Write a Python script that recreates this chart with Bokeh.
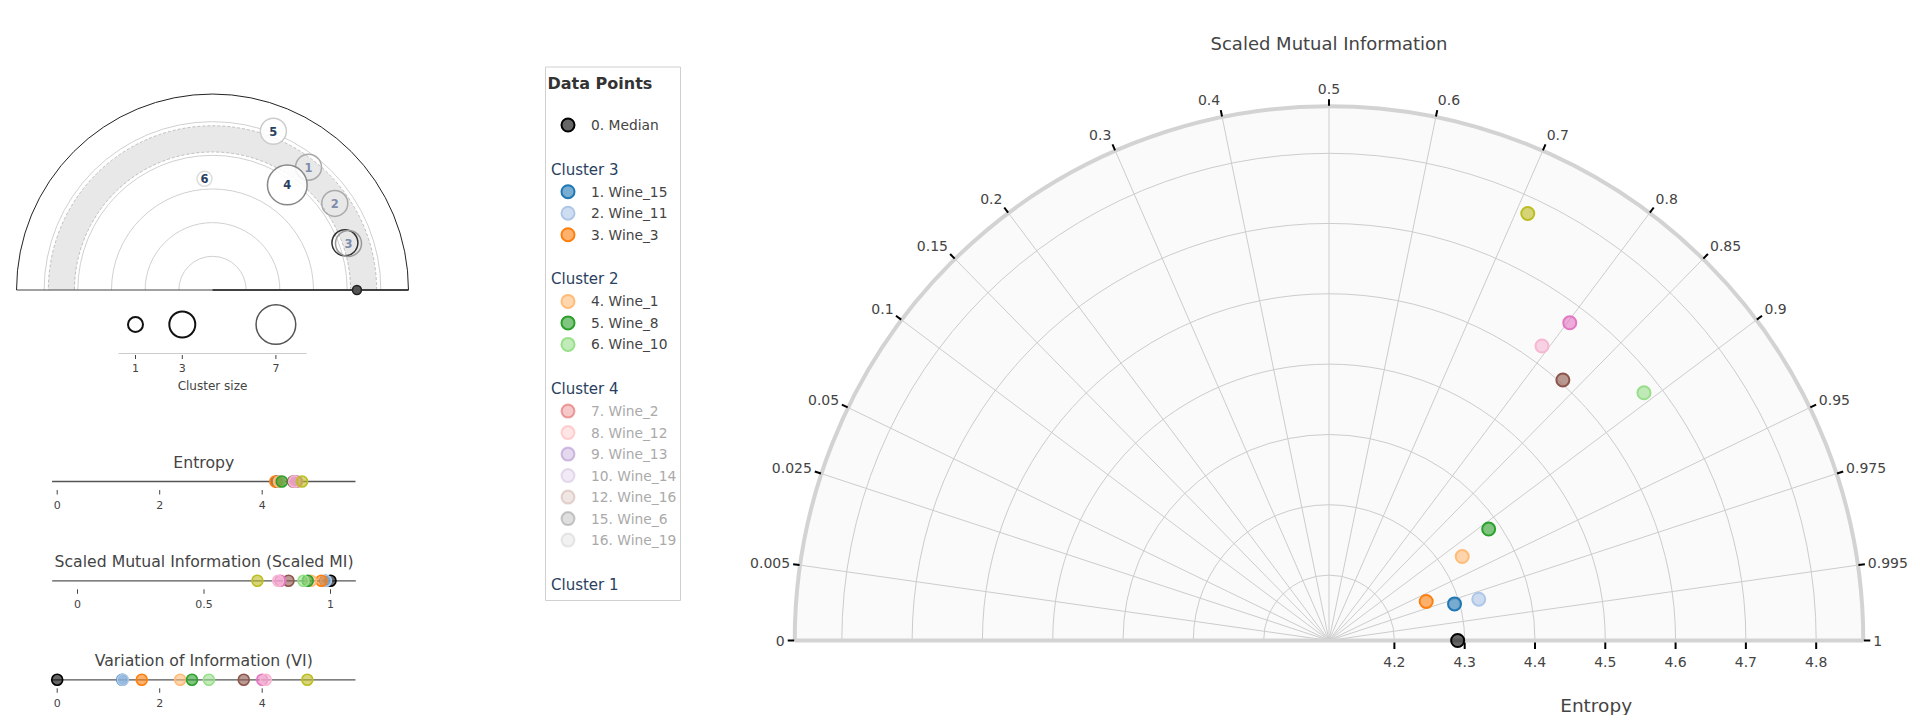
import numpy as np
from bokeh.plotting import figure
from bokeh.layouts import row, column
from bokeh.models import Range1d
from bokeh.core.properties import value
from bokeh.embed import file_html
from bokeh.resources import INLINE

FONT = value("DejaVu Sans")
TXT = "#444444"
NAVY = "#2a3f5f"

# ---------------- data ----------------
# visible data points (median first, then the shown wines)
pt_color = ["#000000", "#1f77b4", "#aec7e8", "#ff7f0e", "#ffbb78", "#2ca02c",
            "#98df8a", "#8c564b", "#e377c2", "#f7b6d2", "#bcbd22"]
pt_entropy = [4.290, 4.293, 4.328, 4.256, 4.331, 4.384, 4.677, 4.605, 4.674, 4.624, 4.777]
pt_smi = [1.000, 0.980, 0.982, 0.964, 0.923, 0.910, 0.893, 0.834, 0.802, 0.793, 0.711]
pt_vi = [0.00, 1.27, 1.28, 1.65, 2.40, 2.63, 2.96, 3.64, 4.00, 4.07, 4.88]

# legend entries
leg_label = ["0. Median", "1. Wine_15", "2. Wine_11", "3. Wine_3", "4. Wine_1", "5. Wine_8",
             "6. Wine_10", "7. Wine_2", "8. Wine_12", "9. Wine_13", "10. Wine_14",
             "12. Wine_16", "15. Wine_6", "16. Wine_19"]
leg_group = ["", "Cluster 3", "Cluster 3", "Cluster 3", "Cluster 2", "Cluster 2", "Cluster 2",
             "Cluster 4", "Cluster 4", "Cluster 4", "Cluster 4", "Cluster 4", "Cluster 4", "Cluster 4"]
leg_color = ["#000000", "#1f77b4", "#aec7e8", "#ff7f0e", "#ffbb78", "#2ca02c", "#98df8a",
             "#d62728", "#ff9896", "#9467bd", "#c5b0d5", "#c49c94", "#7f7f7f", "#c7c7c7"]
leg_shown = [True] * 7 + [False] * 7
group_titles = ["Cluster 3", "Cluster 2", "Cluster 4", "Cluster 1"]

# cluster overview (left semicircle)
cl_id = ["1", "2", "3", "4", "5", "6"]
cl_entropy = [4.63, 4.45, 4.27, 3.83, 5.05, 3.31]
cl_smi = [0.808, 0.908, 0.973, 0.790, 0.679, 0.464]
cl_size = [3, 3, 3, 7, 3, 1]
cl_active = [False, False, False, True, True, True]
sel_entropy = [4.175]
sel_smi = [0.971]
sel_size = [3]
median_entropy = [4.29]
median_smi = [1.0]
band = [4.10, 4.875]
overview_rings = [1, 2, 3, 4, 5]
overview_rmax = 5.82
size_legend = [1, 3, 7]
size_axis = [0.27, 8.31]

# strips
entropy_ticks = [0, 2, 4]
entropy_tick_labels = ["0", "2", "4"]
smi_ticks = [0, 0.5, 1]
smi_tick_labels = ["0", "0.5", "1"]
vi_ticks = [0, 2, 4]
vi_tick_labels = ["0", "2", "4"]
entropy_axis = [-0.1, 5.82]
smi_axis = [-0.1, 1.1]
vi_axis = [-0.1, 5.82]

# main polar diagram
ang_ticks = [0, 0.005, 0.025, 0.05, 0.1, 0.15, 0.2, 0.3, 0.4, 0.5, 0.6, 0.7, 0.8,
             0.85, 0.9, 0.95, 0.975, 0.995, 1]
ang_labels = ["0", "0.005", "0.025", "0.05", "0.1", "0.15", "0.2", "0.3", "0.4", "0.5",
              "0.6", "0.7", "0.8", "0.85", "0.9", "0.95", "0.975", "0.995", "1"]
rad_ticks = [4.2, 4.3, 4.4, 4.5, 4.6, 4.7, 4.8]
rad_labels = ["4.2", "4.3", "4.4", "4.5", "4.6", "4.7", "4.8"]
r_range = [4.107, 4.867]


def make_fig(w, h, xr, yr):
    f = figure(width=w, height=h, x_range=xr, y_range=yr, toolbar_location=None,
               output_backend="svg", min_border=0, title=None)
    f.outline_line_color = None
    f.axis.visible = False
    f.grid.visible = False
    f.background_fill_color = "white"
    f.border_fill_color = "white"
    return f


def ang(s):
    return np.arccos(2 * np.asarray(s, dtype=float) - 1)


LW = 428  # left column width (page x 0..428)

# ---------------- left: cluster overview ----------------
OV = 33.67
OCX, OCY = 212.0, 289.5
fa = make_fig(LW, 300, Range1d((0 - OCX) / OV, (LW - OCX) / OV),
              Range1d((OCY - 300) / OV, (OCY - 0) / OV))
n_r = len(overview_rings)
fa.arc(x=[0] * n_r, y=[0] * n_r, radius=overview_rings, start_angle=0, end_angle=np.pi,
       line_color="#d0d0d0", line_width=1)
fa.annular_wedge(x=0, y=0, inner_radius=band[0], outer_radius=band[1], start_angle=0,
                 end_angle=np.pi, fill_color="#e8e8e8", line_color=None)
fa.arc(x=[0, 0], y=[0, 0], radius=band, start_angle=0, end_angle=np.pi,
       line_color="#bdbdbd", line_width=1, line_dash="3 2")
fa.arc(x=0, y=0, radius=overview_rmax, start_angle=0, end_angle=np.pi,
       line_color="#222222", line_width=1)
fa.segment(x0=-overview_rmax, y0=0, x1=overview_rmax, y1=0, line_color="#444444", line_width=1)
fa.segment(x0=0, y0=0, x1=overview_rmax, y1=0, line_color="#222222", line_width=1.6)

th_sel = ang(sel_smi)
fa.scatter(x=np.array(sel_entropy) * np.cos(th_sel), y=np.array(sel_entropy) * np.sin(th_sel),
           size=15 * np.sqrt(sel_size), fill_color=None, line_color="#333333", line_width=1.5)
th_c = ang(cl_smi)
cx = np.array(cl_entropy) * np.cos(th_c)
cy = np.array(cl_entropy) * np.sin(th_c)
line_cols = ["#aaaaaa", "#aaaaaa", "#999999", "#888888", "#cccccc", "#dddddd"]
fill_al = [0.0 if not a else 0.85 for a in cl_active]
fa.scatter(x=cx, y=cy, size=15 * np.sqrt(cl_size), fill_color="white", fill_alpha=fill_al,
           line_color=line_cols, line_width=1.5)
act = [i for i, a in enumerate(cl_active) if a]
ina = [i for i, a in enumerate(cl_active) if not a]
fa.text(x=cx[act], y=cy[act], text=[cl_id[i] for i in act], text_font=FONT,
        text_font_size="11.5px", text_font_style="bold", text_color=NAVY,
        text_align="center", text_baseline="middle")
fa.text(x=cx[ina], y=cy[ina], text=[cl_id[i] for i in ina], text_font=FONT,
        text_font_size="11.5px", text_font_style="bold", text_color="#7f8cab",
        text_align="center", text_baseline="middle")
th_m = ang(median_smi)
fa.scatter(x=np.array(median_entropy) * np.cos(th_m), y=np.array(median_entropy) * np.sin(th_m),
           size=9, fill_color="#555555", line_color="#222222", line_width=1.5)

# cluster size legend
SZ = 23.4
SX0 = 135.0
fa2 = make_fig(LW, 100, Range1d(1 + (0 - SX0) / SZ, 1 + (LW - SX0) / SZ), Range1d(400, 300))
fa2.scatter(x=size_legend, y=[324] * 3, size=15 * np.sqrt(size_legend), fill_color=None,
            line_color=["#111111", "#111111", "#555555"], line_width=[2, 2, 1.5])
fa2.segment(x0=size_axis[0], y0=353, x1=size_axis[1], y1=353, line_color="#cccccc", line_width=1)
fa2.segment(x0=size_legend, y0=354.5, x1=size_legend, y1=358.5, line_color=TXT, line_width=1)
fa2.text(x=size_legend, y=[367] * 3, text=[str(s) for s in size_legend], text_font=FONT,
         text_font_size="11px", text_color=TXT, text_align="center", text_baseline="middle")
fa2.text(x=[np.mean(size_axis)], y=[385], text=["Cluster size"], text_font=FONT,
         text_font_size="12px", text_color=TXT, text_align="center", text_baseline="middle")


# ---------------- strips ----------------
def strip(title, vals, ticks, tick_labels, axis_rng, x0_page, ppu, ytop, ybot, line_y):
    f = make_fig(LW, ybot - ytop, Range1d((0 - x0_page) / ppu, (LW - x0_page) / ppu),
                 Range1d(ybot, ytop))
    f.segment(x0=axis_rng[0], y0=line_y, x1=axis_rng[1], y1=line_y, line_color="#555555",
              line_width=1.3)
    f.segment(x0=ticks, y0=line_y + 8.5, x1=ticks, y1=line_y + 13, line_color=TXT, line_width=1)
    f.text(x=ticks, y=[line_y + 23] * len(ticks), text=tick_labels, text_font=FONT,
           text_font_size="11px", text_color=TXT, text_align="center", text_baseline="middle")
    f.text(x=[np.mean(axis_rng)], y=[line_y - 19.5], text=[title], text_font=FONT,
           text_font_size="15.7px", text_color=TXT, text_align="center", text_baseline="middle")
    f.scatter(x=vals, y=[line_y] * len(vals), size=11, fill_color=pt_color, fill_alpha=0.6,
              line_color=pt_color, line_width=1.6)
    return f


fb1 = strip("Entropy", pt_entropy, entropy_ticks, entropy_tick_labels, entropy_axis,
            56.7, 51.25, 400, 520, 481)
fb2 = strip("Scaled Mutual Information (Scaled MI)", pt_smi, smi_ticks, smi_tick_labels,
            smi_axis, 77.0, 253.0, 520, 620, 580.3)
fb3 = strip("Variation of Information (VI)", pt_vi, vi_ticks, vi_tick_labels, vi_axis,
            56.7, 51.25, 620, 715, 679.3)

# ---------------- legend ----------------
fl = make_fig(272, 715, Range1d(428, 700), Range1d(715, 0))
fl.quad(left=545, right=680, top=66.5, bottom=600, fill_color="white",
        line_color="#d0d0d0", line_width=1)
ITEM_STEP, GROUP_GAP, TITLE_TO_ITEM = 21.5, 44.5, 22.2
item_y, gt_y, gt_text = [], [], []
last, ycur = None, None
for g in leg_group:
    if g != last:
        if last is None:
            ycur = 124.5
        else:
            ty = ycur + GROUP_GAP
            gt_y.append(ty)
            gt_text.append(g)
            ycur = ty + TITLE_TO_ITEM
        last = g
    else:
        ycur += ITEM_STEP
    item_y.append(ycur)
for g in group_titles:
    if g not in gt_text:
        gt_y.append(ycur + GROUP_GAP)
        gt_text.append(g)

fl.text(x=[547], y=[82.5], text=["Data Points"], text_font=FONT, text_font_size="16px",
        text_font_style="bold", text_color="#333333", text_align="left", text_baseline="middle")
fl.text(x=[550.5] * len(gt_y), y=gt_y, text=gt_text, text_font=FONT, text_font_size="15px",
        text_color=NAVY, text_align="left", text_baseline="middle")
on = [i for i, s in enumerate(leg_shown) if s]
off = [i for i, s in enumerate(leg_shown) if not s]
for idx, fa_, la_, tc in ((on, 0.6, 1.0, TXT), (off, 0.25, 0.4, "#aaaaaa")):
    cols = [leg_color[i] for i in idx]
    ys = [item_y[i] for i in idx]
    fl.scatter(x=[567.5] * len(idx), y=ys, size=13, fill_color=cols, fill_alpha=fa_,
               line_color=cols, line_alpha=la_, line_width=2)
    fl.text(x=[590.5] * len(idx), y=ys, text=[leg_label[i] for i in idx], text_font=FONT,
            text_font_size="13.8px", text_color=tc, text_align="left", text_baseline="middle")

# ---------------- main polar diagram ----------------
PPU = 703.0
R0 = r_range[0]
R = r_range[1] - r_range[0]
CX, CY = 1328.5, 640.0
PX0, PY0, PW, PH = 700, 0, 1212, 715
pp = make_fig(PW, PH, Range1d((PX0 - CX) / PPU, (PX0 + PW - CX) / PPU),
              Range1d((CY - (PY0 + PH)) / PPU, (CY - PY0) / PPU))

pp.wedge(x=0, y=0, radius=R, start_angle=0, end_angle=np.pi, fill_color="#fafafa",
         line_color=None)
rr = [t - R0 for t in rad_ticks]
pp.arc(x=[0] * len(rr), y=[0] * len(rr), radius=rr, start_angle=0, end_angle=np.pi,
       line_color="#cccccc", line_width=1)
th = ang(ang_ticks)
inner = th[1:-1]
pp.segment(x0=0, y0=0, x1=R * np.cos(inner), y1=R * np.sin(inner), line_color="#cccccc",
           line_width=1)
pp.arc(x=0, y=0, radius=R, start_angle=0, end_angle=np.pi, line_color="#d3d3d3", line_width=4)
pp.segment(x0=-R, y0=0, x1=R, y1=0, line_color="#d3d3d3", line_width=4)

# angular ticks + labels
t_in, t_out = R + 0.5 / PPU, R + 7 / PPU
pp.segment(x0=t_in * np.cos(th), y0=t_in * np.sin(th), x1=t_out * np.cos(th),
           y1=t_out * np.sin(th), line_color="black", line_width=2)
lab_r = R + 10 / PPU
hh = 7.5 / PPU
lx = lab_r * np.cos(th)
ly = lab_r * np.sin(th) + hh * np.sin(th)
cos_t = np.cos(th)
for sel, al in ((cos_t > 0.01, "left"), (cos_t < -0.01, "right"), (np.abs(cos_t) <= 0.01, "center")):
    ids = np.where(sel)[0]
    pp.text(x=lx[ids], y=ly[ids], text=[ang_labels[i] for i in ids], text_font=FONT,
            text_font_size="14px", text_color=TXT, text_align=al, text_baseline="middle")

# radial ticks + labels
pp.segment(x0=rr, y0=-2 / PPU, x1=rr, y1=-8.5 / PPU, line_color="black", line_width=2)
pp.text(x=rr, y=[-21 / PPU] * len(rr), text=rad_labels, text_font=FONT,
        text_font_size="14px", text_color=TXT, text_align="center", text_baseline="middle")

pp.text(x=[R / 2], y=[-65 / PPU], text=["Entropy"], text_font=FONT, text_font_size="18.5px",
        text_color=TXT, text_align="center", text_baseline="middle")
pp.text(x=[0], y=[(CY - 43.3) / PPU], text=["Scaled Mutual Information"], text_font=FONT,
        text_font_size="18px", text_color=TXT, text_align="center", text_baseline="middle")

thp = ang(pt_smi)
rp = np.array(pt_entropy) - R0
pp.scatter(x=rp * np.cos(thp), y=rp * np.sin(thp), size=13, fill_color=pt_color,
           fill_alpha=0.6, line_color=pt_color, line_width=2)

layout = row(column(fa, fa2, fb1, fb2, fb3), fl, pp)
open("out.html", "w").write(file_html(layout, INLINE))
